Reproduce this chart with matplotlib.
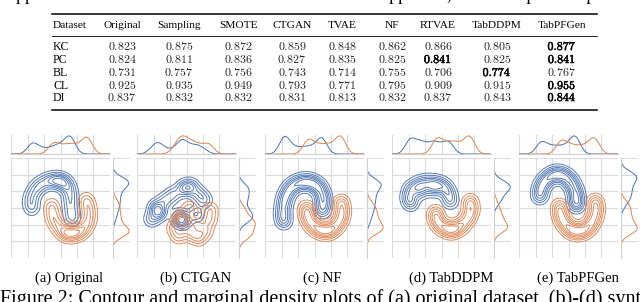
import numpy as np
import matplotlib
matplotlib.use('Agg')
from matplotlib import pyplot as plt
from matplotlib.lines import Line2D
import matplotlib.patheffects as pe

plt.rcParams['font.family'] = ['Liberation Serif', 'DejaVu Serif']
plt.rcParams['mathtext.fontset'] = 'cm'

# table data
methods = ['Original', 'Sampling', 'SMOTE', 'CTGAN', 'TVAE', 'NF', 'RTVAE', 'TabDDPM', 'TabPFGen']
datasets = ['KC', 'PC', 'BL', 'CL', 'DI']
scores_kc = [0.823, 0.875, 0.872, 0.859, 0.848, 0.862, 0.866, 0.805, 0.877]
scores_pc = [0.824, 0.811, 0.836, 0.827, 0.835, 0.825, 0.841, 0.825, 0.841]
scores_bl = [0.731, 0.757, 0.756, 0.743, 0.714, 0.755, 0.706, 0.774, 0.767]
scores_cl = [0.925, 0.935, 0.949, 0.793, 0.771, 0.795, 0.909, 0.915, 0.955]
scores_di = [0.837, 0.832, 0.832, 0.831, 0.813, 0.832, 0.837, 0.843, 0.844]

# samples (x, y in axis percent), blue / orange class
captions = ['(a) Original', '(b) CTGAN', '(c) NF', '(d) TabDDPM', '(e) TabPFGen']
orig_blue = [(21, 50), (20, 57), (22, 64), (26, 70), (31, 74), (37, 77), (43, 78), (46, 77), (50, 77),
             (53, 76), (56, 73), (59, 68), (60, 61), (60, 54), (61, 46), (62, 39)]
orig_orange = [(41, 52), (42, 44), (44, 37), (48, 31), (53, 26), (56, 25), (60, 24), (63, 25), (67, 25),
               (71, 27), (75, 31), (78, 37), (79, 44), (78, 51), (76, 58)]
ctgan_blue = [(21, 47), (23, 45), (19, 51), (28, 57), (36, 63), (46, 69), (51, 71), (55, 71), (62, 64),
              (68, 58), (44, 38), (47, 37), (43, 41), (15, 39), (60, 44)]
ctgan_orange = [(45, 37), (48, 36), (44, 40), (50, 29), (56, 23), (63, 20), (69, 27), (73, 38), (74, 48),
                (38, 30), (53, 49), (42, 22), (60, 34)]
nf_blue = [(19, 37), (18, 45), (19, 54), (21, 62), (25, 69), (31, 74), (38, 76), (44, 76), (50, 74),
           (55, 70), (58, 63), (59, 56), (58, 48)]
nf_orange = [(42, 49), (43, 41), (47, 34), (53, 29), (59, 27), (65, 27), (71, 31), (76, 38), (78, 46),
             (77, 55)]
ddpm_blue = [(17, 61), (19, 69), (26, 73), (33, 75), (40, 75), (47, 74), (53, 71), (57, 65), (59, 57),
             (19, 55), (29, 67), (42, 69)]
ddpm_orange = [(44, 45), (45, 38), (49, 32), (55, 29), (60, 28), (65, 29), (71, 33), (77, 40), (80, 48),
               (79, 56)]
pfgen_blue = [(21, 62), (22, 70), (26, 77), (32, 82), (38, 84), (44, 83), (50, 79), (54, 73), (57, 66),
              (58, 59), (58, 53)]
pfgen_orange = [(41, 51), (42, 43), (45, 36), (50, 30), (55, 27), (61, 26), (67, 28), (72, 33), (76, 40),
                (78, 48), (77, 56)]

panels = [(orig_blue, orig_orange), (ctgan_blue, ctgan_orange), (nf_blue, nf_orange),
          (ddpm_blue, ddpm_orange), (pfgen_blue, pfgen_orange)]

W, H = 640, 302
fig = plt.figure(figsize=(6.4, 3.02), dpi=100)


def fx(px):
    return px / W


def fy(py):
    return 1 - py / H


def hline(x0, x1, py, lw):
    fig.add_artist(Line2D([fx(x0), fx(x1)], [fy(py), fy(py)], lw=lw, color='black'))


# clipped text lines from the page
fig.text(fx(3), fy(0.5), 'Appendix D. The datasets used are described in the Appendix, and we report the performance of TabPFGen.',
         fontsize=13, va='baseline')
fig.text(fx(0), fy(304), 'Figure 2: Contour and marginal density plots of (a) original dataset, (b)-(d) synthetic data',
         fontsize=14.5, va='baseline')

# table
col_x = [122, 179, 238, 292, 342, 392, 438, 497, 562]
row_y = [47, 60, 73, 86, 98]
hline(52, 597, 14, 1.1)
hline(52, 597, 36, 0.6)
hline(52, 597, 110, 1.1)
fig.text(fx(53), fy(25), 'Dataset', fontsize=8.2, va='center', ha='left')
for m, x in zip(methods, col_x):
    fig.text(fx(x), fy(25), m, fontsize=8.2, va='center', ha='center')
rows = [scores_kc, scores_pc, scores_bl, scores_cl, scores_di]
bold = [pe.withStroke(linewidth=0.35, foreground='black')]
for name, row, y in zip(datasets, rows, row_y):
    fig.text(fx(53), fy(y), name, fontsize=8.5, va='center', ha='left')
    best = max(row)
    for v, x in zip(row, col_x):
        t = fig.text(fx(x), fy(y), r'$%.3f$' % v, fontsize=8.6, va='center', ha='center',
                     color='black' if v == best else '#222222')
        if v == best:
            t.set_path_effects(bold)

# contour panels
blue, orange = '#4c72b0', '#dd8452'
panel_x = [11, 137, 265, 392, 519]
cap_x = [69, 196, 322, 451, 578]
gx = [0, 16.7, 33.3, 50, 66.7, 83.3]
gy = [16.7, 33.3, 50, 66.7, 83.3, 100]
grid_kw = dict(color='#dadada', lw=0.8)

u = np.linspace(-10, 110, 241)
U, V = np.meshgrid(u, u)
bw = 5.0


def kde(pts):
    d = np.zeros_like(U)
    for px, py in pts:
        d += np.exp(-((U - px) ** 2 + (V - py) ** 2) / (2 * bw ** 2))
    return d / len(pts)


for (pts_b, pts_o), x0, cx, cap in zip(panels, panel_x, cap_x, captions):
    ax = fig.add_axes([fx(x0), fy(258), 99 / W, 100 / H])
    axt = fig.add_axes([fx(x0), fy(154), 99 / W, 19 / H])
    axr = fig.add_axes([fx(x0 + 102), fy(258), 17 / W, 100 / H])

    dens = [kde(pts_b), kde(pts_o)]
    mx_top = max(d.sum(axis=0).max() for d in dens)
    mx_right = max(d.sum(axis=1).max() for d in dens)
    for d, c in zip(dens, [blue, orange]):
        lev = d.max() * np.array([0.1, 0.22, 0.36, 0.5, 0.65, 0.82])
        ax.contour(U, V, d, levels=lev, colors=c, linewidths=0.65)
        axt.plot(u, d.sum(axis=0), color=c, lw=0.7)
        axr.plot(d.sum(axis=1), u, color=c, lw=0.7)

    ax.set_xlim(0, 100)
    ax.set_ylim(0, 100)
    ax.set_xticks(gx)
    ax.set_yticks(gy)
    ax.grid(True, **grid_kw)
    ax.set_axisbelow(True)

    axt.set_xlim(0, 100)
    axt.set_ylim(0, mx_top * 1.05)
    axt.set_xticks(gx)
    axt.set_yticks([])
    axt.grid(True, axis='x', **grid_kw)

    axr.set_ylim(0, 100)
    axr.set_xlim(0, mx_right * 1.05)
    axr.set_yticks(gy)
    axr.set_xticks([])
    axr.grid(True, axis='y', **grid_kw)

    for a in (ax, axt, axr):
        a.tick_params(length=0, labelbottom=False, labelleft=False)
        for s in a.spines.values():
            s.set_visible(False)
    axt.spines['bottom'].set_visible(True)
    axt.spines['bottom'].set_color('#cfcfcf')
    axr.spines['left'].set_visible(True)
    axr.spines['left'].set_color('#cfcfcf')

    fig.text(fx(cx), fy(278), cap, fontsize=10.5, ha='center', va='center')

fig.savefig('out.png', dpi=100)
